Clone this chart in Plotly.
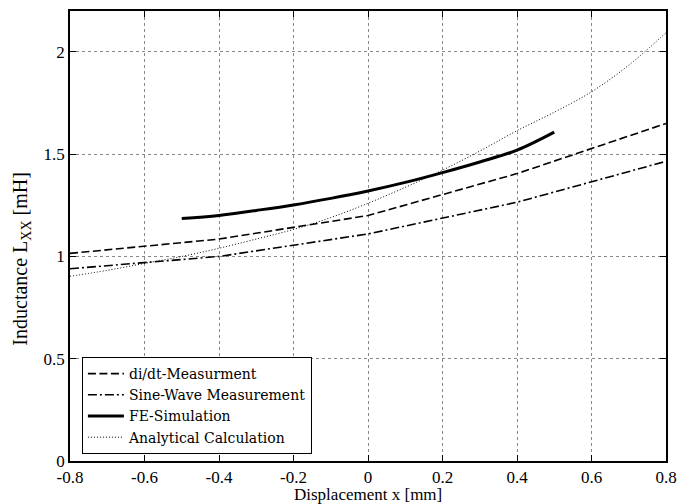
import plotly.graph_objects as go

# di/dt measurement
x_didt = [-0.8, -0.4, 0.0, 0.4, 0.8]
y_didt = [1.015, 1.085, 1.2, 1.405, 1.65]

# sine-wave measurement
x_sine = [-0.8, -0.4, 0.0, 0.4, 0.8]
y_sine = [0.94, 1.0, 1.11, 1.265, 1.465]

# FE simulation
x_fe = [-0.5, -0.4, -0.3, -0.2, -0.1, 0.0, 0.1, 0.2, 0.3, 0.4, 0.5]
y_fe = [1.185, 1.2, 1.225, 1.252, 1.284, 1.32, 1.362, 1.41, 1.462, 1.52, 1.608]

# analytical calculation
x_an = [-0.8, -0.7, -0.6, -0.5, -0.4, -0.3, -0.2, -0.1, 0.0, 0.1, 0.2, 0.3, 0.4, 0.5, 0.6, 0.7, 0.8]
y_an = [0.903, 0.932, 0.966, 1.0, 1.04, 1.085, 1.132, 1.19, 1.26, 1.338, 1.422, 1.515, 1.615, 1.705, 1.805, 1.935, 2.094]

x_ticks = [-0.8, -0.6, -0.4, -0.2, 0, 0.2, 0.4, 0.6, 0.8]
x_ticktext = ["-0.8", "-0.6", "-0.4", "-0.2", "0", "0.2", "0.4", "0.6", "0.8"]
y_ticks = [0, 0.5, 1, 1.5, 2]
y_ticktext = ["0", "0.5", "1", "1.5", "2"]

FONT = "Liberation Serif, Times New Roman, serif"
FS = 17

fig = go.Figure()
fig.add_trace(go.Scatter(x=x_didt, y=y_didt, mode="lines", name="di/dt-Measurment",
                         line=dict(color="black", width=1.6, dash="8px,3.5px")))
fig.add_trace(go.Scatter(x=x_sine, y=y_sine, mode="lines", name="Sine-Wave Measurement",
                         line=dict(color="black", width=1.6, dash="9px,3px,2px,3px")))
fig.add_trace(go.Scatter(x=x_fe, y=y_fe, mode="lines", name="FE-Simulation",
                         line=dict(color="black", width=3, shape="spline")))
fig.add_trace(go.Scatter(x=x_an, y=y_an, mode="lines", name="Analytical Calculation",
                         line=dict(color="black", width=1, dash="1px,2px", shape="spline")))

axis_common = dict(
    showline=True, linecolor="black", linewidth=1.5, mirror="allticks",
    ticks="inside", ticklen=6, tickwidth=1.2, tickcolor="black",
    showgrid=True, gridcolor="#888888", gridwidth=1, griddash="dot",
    zeroline=False, automargin=False,
    tickfont=dict(family=FONT, size=FS, color="black"),
)

fig.update_xaxes(range=[-0.8, 0.8], tickvals=x_ticks, ticktext=x_ticktext, **axis_common)
fig.update_yaxes(range=[0, 2.2], tickvals=y_ticks, ticktext=y_ticktext, **axis_common)

fig.add_annotation(text="Displacement x [mm]", xref="paper", yref="paper",
                   x=0.5, y=-0.075, xanchor="center", yanchor="middle", showarrow=False,
                   font=dict(family=FONT, size=FS, color="black"))
fig.add_annotation(text="Inductance L<sub>XX</sub> [mH]", xref="paper", yref="paper",
                   x=-0.082, y=0.45, xanchor="center", yanchor="middle", showarrow=False,
                   textangle=-90, font=dict(family=FONT, size=20, color="black"))

fig.update_layout(
    width=677, height=504,
    margin=dict(l=70, r=11, t=11, b=43),
    paper_bgcolor="white", plot_bgcolor="white",
    font=dict(family=FONT, size=FS, color="black"),
    showlegend=True,
    legend=dict(x=0.02, y=0.0156, xanchor="left", yanchor="bottom",
                bgcolor="white", bordercolor="black", borderwidth=1,
                font=dict(family="DejaVu Serif, serif", size=14, color="black"),
                tracegroupgap=0, itemwidth=36),
)

fig.write_html("out.html", config={"displayModeBar": False},
               post_script="document.body.style.margin='0';")
